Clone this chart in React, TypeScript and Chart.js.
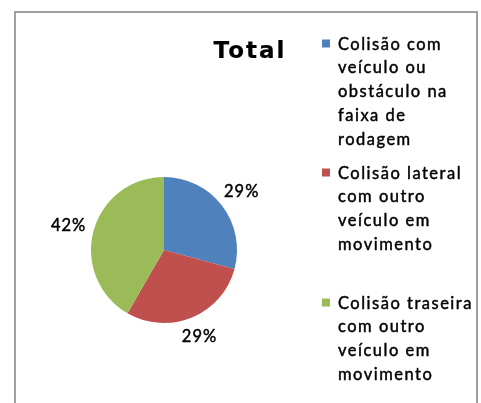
import React, { useEffect, useRef } from 'react';
import { Chart, registerables } from 'chart.js';

Chart.register(...registerables);

const chartTitle = 'Total';
const categories: string[][] = [
  ['Colisão com', 'veículo ou', 'obstáculo na', 'faixa de', 'rodagem'],
  ['Colisão lateral', 'com outro', 'veículo em', 'movimento'],
  ['Colisão traseira', 'com outro', 'veículo em', 'movimento'],
];
const values = [7, 7, 10];
const colors = ['#4F81BD', '#C0504D', '#9BBB59'];

const FONT = 'Lato, "Open Sans", sans-serif';

function drawText(ctx: CanvasRenderingContext2D, s: string, x: number, y: number) {
  ctx.fillText(s, x, y);
  ctx.strokeText(s, x, y);
}

const decorPlugin = {
  id: 'excelDecor',
  beforeDraw(chart: any) {
    const ctx = chart.ctx as CanvasRenderingContext2D;
    ctx.save();
    ctx.fillStyle = '#ffffff';
    ctx.fillRect(0, 0, chart.width, chart.height);
    ctx.strokeStyle = '#a0a0a0';
    ctx.lineWidth = 2;
    ctx.strokeRect(15, 12, 462, 500);
    ctx.restore();
  },
  afterDatasetsDraw(chart: any) {
    const ctx = chart.ctx as CanvasRenderingContext2D;
    const meta = chart.getDatasetMeta(0);
    const data = chart.data.datasets[0].data as number[];
    const total = data.reduce((a, b) => a + b, 0);
    ctx.save();
    ctx.fillStyle = '#000000';
    ctx.strokeStyle = '#000000';
    ctx.lineWidth = 0.45;
    ctx.lineJoin = 'round';

    // data labels (outside end)
    (ctx as any).letterSpacing = '1px';
    ctx.font = `16.5px ${FONT}`;
    ctx.textAlign = 'left';
    ctx.textBaseline = 'middle';
    meta.data.forEach((arc: any, i: number) => {
      const p = arc.getProps(['x', 'y', 'startAngle', 'endAngle', 'outerRadius'], true);
      const mid = (p.startAngle + p.endAngle) / 2;
      const pct = Math.round((data[i] / total) * 100) + '%';
      const w = ctx.measureText(pct).width;
      const h = 13;
      const c = Math.cos(mid);
      const s = Math.sin(mid);
      const half = Math.abs(c) * (w / 2) + Math.abs(s) * (h / 2);
      const r = p.outerRadius + 7 + half;
      const cx = p.x + c * r;
      const cy = p.y + s * r;
      drawText(ctx, pct, cx - w / 2, cy + 1);
    });

    // title
    (ctx as any).letterSpacing = '2px';
    ctx.font = `bold 23px "DejaVu Sans", ${FONT}`;
    ctx.textAlign = 'left';
    ctx.textBaseline = 'alphabetic';
    ctx.lineWidth = 0.2;
    const tw = ctx.measureText(chartTitle).width - 2;
    drawText(ctx, chartTitle, 249 - tw / 2, 58);

    // legend
    ctx.lineWidth = 0.45;
    (ctx as any).letterSpacing = '1.5px';
    ctx.font = `16.5px ${FONT}`;
    const firstBaselines = [49.5, 178.5, 308.5];
    const lineH = 23.8;
    categories.forEach((lines, i) => {
      const b0 = firstBaselines[i];
      ctx.fillStyle = colors[i];
      ctx.fillRect(322, b0 - 10, 8, 8);
      ctx.fillStyle = '#000000';
      lines.forEach((ln, j) => drawText(ctx, ln, 338, b0 + j * lineH));
    });
    ctx.restore();
  },
};

export default function App() {
  const ref = useRef<HTMLCanvasElement | null>(null);
  useEffect(() => {
    if (!ref.current) return;
    const chart = new Chart(ref.current, {
      type: 'pie',
      data: {
        labels: categories.map((l) => l.join(' ')),
        datasets: [
          {
            data: values,
            backgroundColor: colors,
            borderWidth: 0,
          },
        ],
      },
      options: {
        responsive: false,
        animation: false,
        devicePixelRatio: 1,
        layout: { padding: { left: 91, right: 244, top: 177, bottom: 80 } },
        plugins: {
          legend: { display: false },
          title: { display: false },
          tooltip: { enabled: false },
        },
      },
      plugins: [decorPlugin],
    });
    return () => chart.destroy();
  }, []);
  return (
    <div style={{ position: 'fixed', left: 0, top: 0, width: 481, height: 403 }}>
      <canvas ref={ref} width={481} height={403} />
    </div>
  );
}
